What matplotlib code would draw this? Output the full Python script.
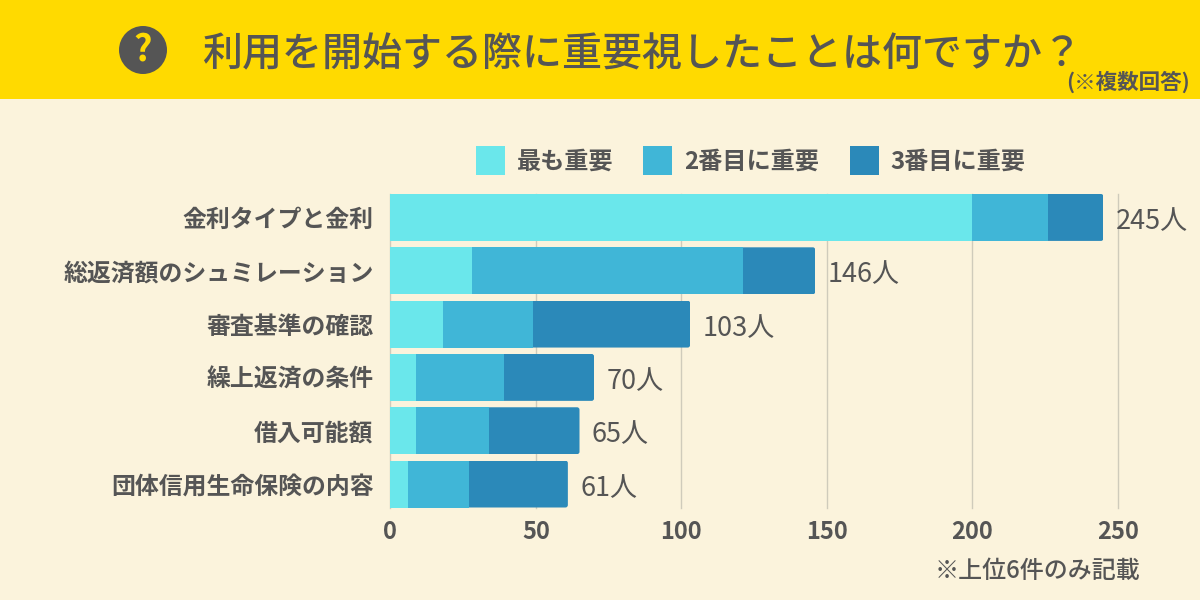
import matplotlib
matplotlib.use("Agg")
from matplotlib import pyplot as plt
from matplotlib.patches import Rectangle, Circle, FancyBboxPatch

plt.rcParams['font.family'] = ['Noto Sans CJK JP', 'DejaVu Sans']

categories = ['金利タイプと金利', '総返済額のシュミレーション', '審査基準の確認', '繰上返済の条件', '借入可能額', '団体信用生命保険の内容']
first = [200, 28, 18, 9, 9, 6]
second = [26, 93, 31, 30, 25, 21]
third = [19, 25, 54, 31, 31, 34]
totals = [245, 146, 103, 70, 65, 61]
series_names = ['最も重要', '2番目に重要', '3番目に重要']
colors = ['#6AE7EB', '#40B6D7', '#2B89B9']
xticks = [0, 50, 100, 150, 200, 250]

BG = '#FBF3DC'
YELLOW = '#FFDA00'
TEXT = '#555555'
W, H = 1200, 600

fig = plt.figure(figsize=(12, 6), dpi=100, facecolor=BG)

# header band
fig.add_artist(Rectangle((0, 1 - 99 / H), 1, 99 / H, transform=fig.transFigure, color=YELLOW, lw=0))
fig.add_artist(Circle((143, 600 - 50), 24, transform=None, color=TEXT, lw=0))
fig.text(143 / W, 1 - 50 / H, '?', color=YELLOW, fontsize=26, fontweight='bold', ha='center', va='center')
fig.text(202 / W, 1 - 54.5 / H, '利用を開始する際に重要視したことは何ですか？', color=TEXT, fontsize=28.8,
         fontweight='medium', ha='left', va='center')
fig.text(1190 / W, 1 - 82 / H, '(※複数回答)', color=TEXT, fontsize=15.5, fontweight='bold', ha='right', va='center')

# plot area
ax = fig.add_axes([390.3 / W, 1 - 507.5 / H, 727.7 / W, 313.5 / H])
ax.set_facecolor('none')
ax.set_xlim(0, 250)
ax.set_ylim(5.44, -0.44)

ypos = list(range(len(categories)))
left2 = [a for a in first]
left3 = [a + b for a, b in zip(first, second)]
b1 = ax.barh(ypos, first, height=0.88, color=colors[0], zorder=3, label=series_names[0])
b2 = ax.barh(ypos, second, left=left2, height=0.88, color=colors[1], zorder=3, label=series_names[1])
b3 = ax.barh(ypos, third, left=left3, height=0.88, color=colors[2], zorder=3, label=series_names[2])

# right end of each bar has small round corners
xpx = 727.7 / 250
ypx = 313.5 / 5.88
for rect in b3:
    x0, y0 = rect.get_x(), rect.get_y()
    clip = FancyBboxPatch((x0 - 5, y0), rect.get_width() + 5, rect.get_height(),
                          boxstyle='round,pad=0,rounding_size=%f' % (2.5 / xpx),
                          mutation_aspect=xpx / ypx, transform=ax.transData)
    rect.set_clip_path(clip)

value_labels = ax.bar_label(b3, labels=['%d人' % t for t in totals], padding=8.8, color=TEXT, fontsize=19.5, zorder=4)
for lab in value_labels:
    lab.xyann = (8.8, -3)

ax.set_xticks(xticks)
ax.set_yticks(ypos)
ax.set_yticklabels(categories)
ax.tick_params(axis='x', length=0, pad=8.7, labelsize=17, labelcolor=TEXT)
ax.tick_params(axis='y', length=0, pad=12, labelsize=17.2, labelcolor=TEXT)
for lab in ax.get_xticklabels() + ax.get_yticklabels():
    lab.set_fontweight('bold')
ax.grid(axis='x', color='#CFCBBB', lw=1, zorder=0)
ax.set_axisbelow(True)
for s in ax.spines.values():
    s.set_visible(False)
for line in ax.get_xgridlines():
    line.set_clip_on(False)

fig.legend(handles=[b1, b2, b3], labels=series_names, loc='center', bbox_to_anchor=(750.5 / W, 1 - 160.5 / H),
           ncol=3, frameon=False, labelcolor=TEXT, prop={'weight': 'bold', 'size': 17.4},
           handlelength=1.2, handleheight=1.45, handletextpad=0.5, columnspacing=1.25, borderpad=0, borderaxespad=0)

fig.text(1140 / W, 1 - 571 / H, '※上位6件のみ記載', color=TEXT, fontsize=17.3, fontweight='medium', ha='right', va='center')

fig.savefig('out.png', dpi=100, facecolor=BG)
